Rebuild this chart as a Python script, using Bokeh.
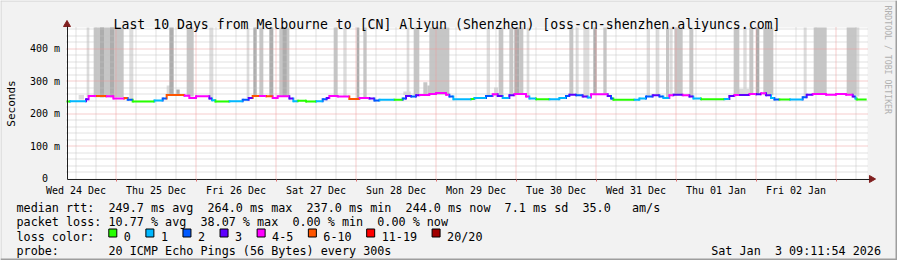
import math
from bokeh.plotting import figure
from bokeh.models import Range1d, FixedTicker, Label, BoxAnnotation, ColumnDataSource
from bokeh.embed import file_html
from bokeh.resources import INLINE

MONO = "DejaVu Sans Mono"
NB = "\u00a0"

# ---------------- data (hours after Wed 24 Dec 00:00, values in ms) ----------------
title_text = "Last 10 Days from Melbourne to [CN] Aliyun (Shenzhen) [oss-cn-shenzhen.aliyuncs.com]"
t_start = 9.15     # Wed 24 Dec ~09:11
t_end = 249.2      # Sat 03 Jan 09:11:54
y_max = 464.6

day_labels = ["Wed 24 Dec", "Thu 25 Dec", "Fri 26 Dec", "Sat 27 Dec", "Sun 28 Dec",
              "Mon 29 Dec", "Tue 30 Dec", "Wed 31 Dec", "Thu 01 Jan", "Fri 02 Jan"]
day_label_hours = [12, 36, 60, 84, 108, 132, 156, 180, 204, 228]
day_start_hours = [24, 48, 72, 96, 120, 144, 168, 192, 216, 240]
y_ticks = [0, 100, 200, 300, 400]
y_tick_labels = ["0" + NB + NB, "100 m", "200 m", "300 m", "400 m"]

# median rtt step series: start hour, value (ms), loss class
med_t = [9.15, 10.2, 15.0, 15.8, 18.0, 21.0, 23.2, 26.5, 27.5, 29.0, 35.5, 38.0, 39.2, 44.5,
         46.0, 48.0, 52.0, 52.8, 53.8, 58.0, 62.0, 63.8, 65.0, 67.0, 69.0, 71.0, 72.5, 76.0,
         77.2, 78.5, 81.0, 84.0, 86.0, 87.2, 88.0, 90.5, 94.0, 97.0, 100.0, 101.5, 103.0,
         107.5, 110.0, 111.0, 112.5, 114.0, 115.0, 118.0, 120.0, 123.0, 124.0, 125.2, 130.5,
         131.5, 135.0, 137.0, 138.5, 140.0, 142.0, 143.5, 147.0, 148.0, 150.0, 154.0, 157.0,
         159.0, 160.0, 162.0, 164.0, 165.5, 166.5, 171.5, 172.5, 173.2, 179.5, 181.0, 183.0,
         185.0, 187.0, 188.2, 190.0, 191.2, 194.0, 196.0, 197.2, 199.5, 206.5, 208.0, 209.5,
         211.0, 214.0, 216.0, 217.5, 219.0, 220.5, 221.5, 223.0, 226.2, 230.0, 231.2, 233.0,
         237.0, 240.0, 243.0, 245.0, 245.8, 246.2]
med_ms = [237, 238, 244, 254, 254, 253, 246, 248, 242, 237, 240, 246, 257, 255,
          248, 253, 246, 241, 237, 238, 242, 248, 254, 254, 253, 248, 253, 246,
          238, 239, 237, 238, 244, 248, 254, 252, 245, 248, 246, 240, 242,
          242, 246, 254, 252, 256, 257, 260, 263, 258, 252, 244, 245,
          248, 254, 259, 254, 248, 256, 260, 252, 246, 244, 244, 248,
          254, 258, 256, 252, 249, 259, 254, 246, 242, 242, 246, 252,
          256, 252, 248, 256, 258, 256, 252, 246, 244, 245, 254, 257,
          257, 260, 259, 262, 256, 248, 243, 243, 243, 250, 258, 260,
          258, 260, 258, 252, 246, 243]
med_loss = [0, 1, 3, 4, 5, 4, 4, 5, 2, 0, 1, 2, 5, 4,
            4, 4, 3, 1, 0, 1, 2, 3, 5, 4, 5, 4, 4, 3,
            1, 0, 0, 1, 2, 3, 4, 4, 5, 4, 3, 2, 1,
            0, 2, 3, 2, 3, 4, 4, 4, 4, 2, 1, 0,
            1, 2, 4, 3, 1, 3, 4, 4, 1, 0, 1, 1,
            2, 3, 2, 3, 1, 4, 3, 2, 0, 1, 1, 2,
            3, 2, 1, 4, 3, 4, 3, 1, 0, 1, 3, 4,
            3, 4, 3, 4, 3, 1, 2, 0, 1, 2, 3, 4,
            4, 4, 4, 3, 1, 0]

loss_labels = ["0", "1", "2", "3", "4-5", "6-10", "11-19", "20/20"]
loss_colors = ["#26ff00", "#00b8ff", "#0059ff", "#5e00ff", "#ff00ff", "#ff5500", "#ff0000", "#a10000"]

# smoke (ping spread): start, end, low, high, shade (0 light, 1 medium, 2 dark)
smoke_t0 = [15.2, 17.3, 19.2, 22.2, 28.0, 40.0, 45.2, 52.0, 63.2, 65.2, 67.0, 70.0, 73.0, 74.0,
            89.3, 92.2, 96.2, 98.2, 111.2, 113.3, 118.0, 135.2, 138.8, 142.0, 143.5, 145.0,
            147.2, 160.0, 162.0, 164.2, 167.2, 170.2, 183.2, 186.0, 189.0, 190.2, 191.5, 196.0,
            209.3, 212.2, 214.0, 216.0, 218.2, 230.3, 233.3, 243.2, 246.2,
            12.8, 39.2, 42.1, 116.2, 117.4, 137.4, 210.4, 110.2]
smoke_t1 = [16.0, 26.3, 20.4, 23.4, 29.2, 41.3, 47.3, 53.2, 64.0, 66.2, 68.2, 71.2, 76.0, 75.2,
            90.5, 93.2, 97.0, 99.2, 112.0, 115.0, 124.0, 136.2, 140.2, 143.2, 145.0, 146.2,
            148.0, 161.2, 162.8, 166.0, 168.2, 171.2, 184.2, 187.0, 190.0, 191.0, 194.0, 197.2,
            211.0, 213.2, 215.2, 217.0, 221.2, 231.2, 237.2, 246.2, 247.0,
            14.4, 40.7, 43.1, 117.4, 118.2, 138.6, 213.9, 112.4]
smoke_lo = [250, 250, 250, 250, 244, 258, 252, 244, 248, 254, 254, 252, 252, 252,
            252, 252, 246, 248, 254, 256, 258, 254, 252, 256, 258, 258,
            250, 256, 254, 250, 258, 258, 252, 254, 250, 256, 256, 252,
            256, 256, 258, 258, 256, 250, 258, 258, 252,
            243, 258, 258, 258, 258, 254, 256, 257]
smoke_hi = [465, 465, 465, 465, 465, 465, 465, 465, 465, 465, 465, 465, 465, 465,
            465, 465, 465, 465, 465, 465, 465, 465, 465, 465, 465, 465,
            465, 465, 465, 465, 465, 465, 465, 465, 465, 465, 465, 465,
            465, 465, 465, 465, 465, 465, 465, 465, 465,
            257, 286, 274, 296, 286, 280, 276, 268]
smoke_shade = [0, 1, 2, 2, 0, 2, 1, 0, 0, 2, 1, 2, 1, 2,
               1, 0, 2, 1, 0, 1, 1, 0, 1, 1, 2, 1,
               0, 1, 0, 0, 2, 1, 0, 0, 1, 0, 1, 1,
               1, 0, 1, 2, 1, 0, 1, 1, 0,
               0, 0, 2, 1, 1, 0, 0, 0]
shade_colors = ["#dcdcdc", "#c6c6c6", "#adadad"]

rtt_avg, rtt_max, rtt_min, rtt_now, rtt_sd, rtt_ams = 249.7, 264.0, 237.0, 244.0, 7.1, 35.0
loss_avg, loss_max, loss_min, loss_now = 10.77, 38.07, 0.00, 0.00
probe_text = "20 ICMP Echo Pings (56 Bytes) every 300s"
stamp_text = "Sat Jan  3 09:11:54 2026"

# ---------------- layout constants (canvas pixels) ----------------
W, H = 897, 260
PX_H = 80.0 / 24.0         # px per hour
PX_MS = 0.325              # px per ms
X0_PX = 35.5               # canvas x of Wed 24 Dec 00:00
Y0_PX = 178.0              # canvas y of 0 ms
plot_right = (867 - X0_PX) / PX_H

p = figure(width=W, height=H,
           x_range=Range1d(-X0_PX / PX_H, (W - X0_PX) / PX_H),
           y_range=Range1d(-(H - Y0_PX) / PX_MS, Y0_PX / PX_MS),
           output_backend="svg", toolbar_location=None, tools="",
           min_border=0, min_border_left=0, min_border_right=0,
           min_border_top=0, min_border_bottom=0,
           background_fill_color="#f2f2f2", border_fill_color="#f2f2f2",
           outline_line_color=None)
p.title.visible = False
p.xgrid.visible = False
p.ygrid.visible = False

# canvas (white plot area)
p.quad(left=[t_start], right=[plot_right], bottom=[0], top=[y_max],
       fill_color="white", line_color=None)

# smoke
order = sorted(range(len(smoke_t0)), key=lambda i: smoke_shade[i])
smoke_src = ColumnDataSource(dict(
    l=[smoke_t0[i] for i in order], r=[smoke_t1[i] for i in order],
    b=[smoke_lo[i] for i in order], t=[min(smoke_hi[i], y_max) for i in order],
    c=[shade_colors[smoke_shade[i]] for i in order]))
p.quad(left="l", right="r", bottom="b", top="t", fill_color="c", line_color=None,
       source=smoke_src)


def snap_ms(v):
    """put a horizontal grid line on a pixel centre (rendering only)"""
    py = math.floor(Y0_PX - v * PX_MS) + 0.5
    return (Y0_PX - py) / PX_MS


# grid (dotted)
minor_v = [h for h in range(12, 250, 6) if h % 24]
minor_h = [snap_ms(v) for v in range(20, 465, 20) if v % 100]
major_h = [snap_ms(v) for v in (100, 200, 300, 400)]
GRID_C, MGRID_C = "#c2c2c2", "#ec9a9a"
p.segment(x0=minor_v, x1=minor_v, y0=[0] * len(minor_v), y1=[y_max] * len(minor_v),
          line_color=GRID_C, line_width=1, line_dash="1 1")
p.segment(x0=[t_start] * len(minor_h), x1=[plot_right] * len(minor_h), y0=minor_h, y1=minor_h,
          line_color=GRID_C, line_width=1, line_dash="1 1")
p.segment(x0=day_start_hours, x1=day_start_hours, y0=[0] * len(day_start_hours),
          y1=[y_max] * len(day_start_hours), line_color=MGRID_C, line_width=1, line_dash="1 1")
p.segment(x0=[t_start] * len(major_h), x1=[plot_right] * len(major_h), y0=major_h, y1=major_h,
          line_color=MGRID_C, line_width=1, line_dash="1 1")

# median rtt, coloured by loss
t_next = med_t[1:] + [t_end]
h_src = ColumnDataSource(dict(x0=med_t, x1=t_next, y0=med_ms, y1=med_ms,
                              c=[loss_colors[k] for k in med_loss]))
v_src = ColumnDataSource(dict(x0=med_t[1:], x1=med_t[1:], y0=med_ms[:-1], y1=med_ms[1:],
                              c=[loss_colors[k] for k in med_loss[1:]]))
p.segment("x0", "y0", "x1", "y1", source=v_src, line_color="c", line_width=2, line_cap="square")
p.segment("x0", "y0", "x1", "y1", source=h_src, line_color="c", line_width=2)

# axes (inside the full-canvas frame)
ax_x = (66.5 - X0_PX) / PX_H        # y axis line position
ax_y = -0.5 / PX_MS                  # x axis line position

p.scatter(x=[ax_x], y=[(Y0_PX - 24.0) / PX_MS], marker="triangle", size=7,
          fill_color="#801f1f", line_color="#801f1f")
p.scatter(x=[(871 - X0_PX) / PX_H], y=[ax_y], marker="triangle", angle=-math.pi / 2, size=7,
          fill_color="#801f1f", line_color="#801f1f")

xa = p.xaxis[0]
xa.fixed_location = ax_y
xa.bounds = (ax_x, (869 - X0_PX) / PX_H)
xa.ticker = FixedTicker(ticks=day_label_hours, minor_ticks=day_start_hours)
xa.major_label_overrides = {h: s for h, s in zip(day_label_hours, day_labels)}
xa.major_tick_line_color = None
xa.major_tick_out = 0
xa.major_tick_in = 0
xa.minor_tick_line_color = "#e07070"
xa.minor_tick_out = 2
xa.minor_tick_in = 0
xa.axis_line_color = "#1f1f1f"
xa.major_label_standoff = 4
xa.major_label_text_font = MONO
xa.major_label_text_font_size = "10px"
xa.major_label_text_color = "#000000"

ya = p.yaxis[0]
ya.fixed_location = ax_x
ya.bounds = (ax_y, (Y0_PX - 26) / PX_MS)
ya.ticker = FixedTicker(ticks=y_ticks)
ya.major_label_overrides = {v: s for v, s in zip(y_ticks, y_tick_labels)}
ya.major_tick_line_color = None
ya.major_tick_out = 0
ya.major_tick_in = 0
ya.minor_tick_line_color = None
ya.axis_line_color = "#1f1f1f"
ya.major_label_standoff = 7
ya.major_label_text_font = MONO
ya.major_label_text_font_size = "10px"
ya.major_label_text_color = "#000000"


def lab(text, X, Y, size, align="left", baseline="alphabetic", color="#000000", angle=0.0):
    p.add_layout(Label(x=X, y=H - Y, x_units="screen", y_units="screen",
                       text=text.replace(" ", NB),
                       text_font=MONO, text_font_size=size, text_align=align,
                       text_baseline=baseline, text_color=color, angle=angle))


lab(title_text, 446.5, 24, "13.2px", align="center")
lab("Seconds", 11, 103, "11px", align="center", baseline="middle", angle=math.pi / 2)
lab("RRDTOOL / TOBI OETIKER", 887, 5, "8.2px", align="left", baseline="middle",
    color="#b0b0b0", angle=-math.pi / 2)

LS = "11.75px"
row1 = ("median rtt:  %.1f ms avg  %.1f ms max  %.1f ms min  %.1f ms now  %.1f ms sd  %.1f   am/s"
        % (rtt_avg, rtt_max, rtt_min, rtt_now, rtt_sd, rtt_ams))
row2 = ("packet loss: %.2f %% avg  %.2f %% max  %.2f %% min  %.2f %% now"
        % (loss_avg, loss_max, loss_min, loss_now))
lab(row1, 16, 207.8, LS)
lab(row2, 16, 221.9, LS)
lab("loss color:", 16, 236.0, LS)
lab("probe:       " + probe_text, 16, 250.1, LS)
lab(stamp_text, 880.5, 250.1, LS, align="right")

CW = 7.08
sx = 108.3
for name, col in zip(loss_labels, loss_colors):
    p.add_layout(BoxAnnotation(left=sx, right=sx + 8, bottom=H - 236.5, top=H - 228.5,
                               left_units="screen", right_units="screen",
                               bottom_units="screen", top_units="screen",
                               fill_color=col, fill_alpha=1.0, line_color="#000000",
                               line_alpha=1.0, line_width=1))
    lab(name, sx + 15, 236.0, LS)
    sx += 30 + len(name) * CW

# 3-D frame of the image
for (l, r, b, t, c) in [(0, W, 0, 1, "#cfcfcf"), (0, 1, 0, H, "#cfcfcf"),
                        (0, W, H - 2, H, "#9e9e9e"), (W - 2, W, 0, H, "#9e9e9e")]:
    p.add_layout(BoxAnnotation(left=l, right=r, bottom=H - t, top=H - b,
                               left_units="screen", right_units="screen",
                               bottom_units="screen", top_units="screen",
                               fill_color=c, fill_alpha=1.0, line_color=None))

open("out.html", "w").write(file_html(p, INLINE))
